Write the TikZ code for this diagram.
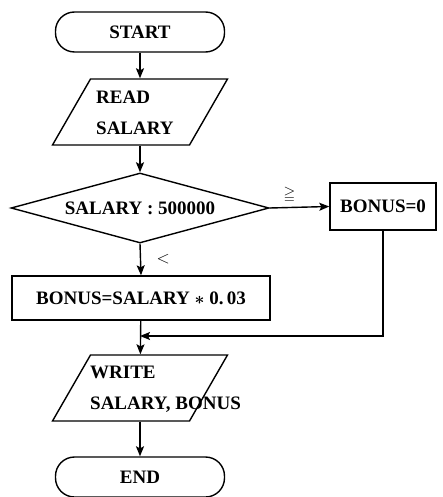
\documentclass[tikz,border=0pt]{standalone}
\usepackage{amssymb}
\usepackage{fontspec}
\setmainfont{Liberation Serif}
\usepackage{tikz}
\usetikzlibrary{shapes.geometric}
\usetikzlibrary{arrows.meta}

\begin{document}
\begin{tikzpicture}[x=1pt, y=1pt,
        every node/.style={font=\fontsize{19}{22}\selectfont\bfseries},
        term/.style={draw, line width=1.4pt, rounded corners=19pt, minimum width=169pt, minimum height=40pt},
        io/.style={draw, line width=1.4pt, trapezium, trapezium left angle=69, trapezium right angle=111, trapezium stretches=true, minimum width=175pt, minimum height=66pt, inner sep=4pt},
        proc/.style={draw, line width=1.4pt, rectangle, inner sep=0pt},
        decide/.style={draw, line width=1.4pt, diamond, aspect=3.7, minimum width=258pt, minimum height=70pt, inner sep=0pt},
        flow/.style={-{Stealth[length=10pt, width=8pt, inset=2pt]}, line width=1.4pt}]
        \def\colx{140}
        \useasboundingbox (0,0) rectangle (443,-497);

        \node[term] (start) at (\colx,-32){START};

        \node[io] (read) at (\colx,-112){};
        \node[anchor=west, align=left, inner sep=0pt] (readtext) at (96,-113){READ\\[9pt]SALARY};

        \node[decide] (test) at (\colx,-208){SALARY : 500000};

        \node[proc, minimum width=106pt, minimum height=47pt] (bonuszero) at (383,-206.5){BONUS=0};

        \node[proc, minimum width=258pt, minimum height=44pt] (bonussal) at (141,-298){BONUS=SALARY {\boldmath$\ast$} 0.\,03};

        \coordinate (merge) at (\colx,-336);

        \node[io] (write) at (\colx,-388){};
        \node[anchor=west, align=left, inner sep=0pt] (writetext) at (90,-389){WRITE\\[9pt]SALARY, BONUS};

        \node[term] (end) at (\colx,-477){END};

        \draw[flow] (start) -- (read);
        \draw[flow] (read) -- (test);
        \draw[flow] (test.east) -- node[above, pos=0.33, yshift=1pt, font=\fontsize{15}{17}\selectfont] (gelabel){$\geqq$} (bonuszero.west);
        \draw[flow] (test.south) -- node[right, midway, xshift=12pt] (ltlabel){$<$} (bonussal.north);
        \draw[flow] (bonuszero.south) |- (merge);
        \draw[flow] (bonussal) -- (write);
        \draw[flow] (write) -- (end);
    \end{tikzpicture}
\end{document}
